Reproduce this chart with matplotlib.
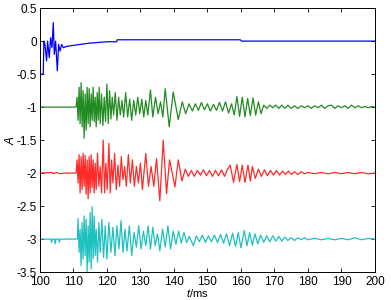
import matplotlib
matplotlib.use("Agg")
import matplotlib.pyplot as plt

plt.rcParams['font.family'] = ['Liberation Sans', 'DejaVu Sans']
plt.rcParams['mathtext.fontset'] = 'custom'
plt.rcParams['mathtext.it'] = 'Liberation Sans:italic'
plt.rcParams['mathtext.rm'] = 'Liberation Sans'

# trace offsets
offsets = [0, -1, -2, -3]

# blue trace (absolute values)
blue_t = [100, 101.0, 101.2, 101.5, 102.0, 102.3, 102.8, 103.2, 103.6, 104.0, 104.3,
          104.7, 105.2, 105.6, 106.0, 106.5, 107.0, 108.0, 112.0, 115.0, 120.0, 122.9,
          123.1, 159.8, 160.2, 200]
blue_v = [-0.5, -0.5, 0.0, -0.05, -0.3, 0.0, -0.25, 0.05, -0.1, 0.28, -0.2,
          0.0, -0.45, -0.05, -0.15, -0.05, -0.1, -0.08, -0.05, -0.03, -0.01, -0.01,
          0.02, 0.02, 0.0, 0.0]

# green trace (deviation from -1)
green_t = [100, 110.8, 111.1, 111.4, 111.7, 112.0, 112.3, 112.6, 112.9, 113.2, 113.5,
           113.8, 114.1, 114.4, 114.7, 115.0, 115.3, 115.6, 115.9, 116.2, 116.5, 116.8,
           117.1, 117.4, 117.7, 118.0, 118.4, 118.8, 119.2, 119.6, 120.0, 120.4, 120.8,
           121.2, 121.6, 122.0, 122.5, 123.0, 123.5, 124.0, 124.5, 125.0, 125.6, 126.2,
           126.8, 127.4, 128.0, 128.6, 129.2, 129.8, 130.4, 131.0, 131.6, 132.2, 133.0,
           133.7, 134.5, 135.3, 136.0, 136.7, 137.4, 138.6, 139.8, 141.3, 142.5, 143.5,
           144.5, 145.5, 146.4, 147.3, 148.2, 149.1, 150.0, 150.9, 151.8, 152.7, 153.6,
           154.5, 155.4, 156.3, 157.2, 158.0, 158.8, 159.6, 160.4, 161.2, 162.0, 162.8,
           163.6, 164.4, 165.2, 166.0, 166.8, 167.7, 168.6, 169.5, 170.4, 171.3, 172.2,
           173.1, 174.0, 175.0, 176.0, 177.0, 178.0, 179.0, 180.0, 181.0, 182.0, 183.0,
           184.0, 185.0, 186.0, 187.0, 188.0, 189.0, 190.0, 191.0, 192.0, 193.0, 194.0,
           195.0, 196.0, 197.0, 198.0, 199.0, 200]
green_d = [0, 0, 0.15, -0.2, 0.3, -0.25, 0.37, -0.3, 0.25, -0.47, 0.2,
           -0.35, 0.3, -0.25, 0.28, -0.3, 0.2, -0.2, 0.3, -0.22, 0.15, -0.3,
           0.22, -0.2, 0.3, -0.25, 0.2, -0.28, 0.15, -0.22, 0.35, -0.25, 0.25,
           -0.18, 0.15, -0.12, 0.22, -0.2, 0.15, -0.12, 0.1, -0.15, 0.22, -0.15,
           0.12, -0.2, 0.1, -0.12, 0.15, -0.1, 0.12, -0.15, 0.1, -0.12, 0.26,
           -0.15, 0.15, -0.1, 0.08, -0.15, 0.28, -0.3, 0.23, -0.19, 0.08, -0.1,
           0.05, -0.06, 0.05, -0.05, 0.07, -0.04, 0.05, -0.06, 0.04, -0.05, 0.07,
           -0.06, 0.08, -0.09, 0.05, -0.12, 0.16, -0.14, 0.15, -0.15, 0.13, -0.13,
           0.14, -0.12, 0.08, -0.1, 0.03, -0.02, 0.03, -0.01, 0.03, -0.02, 0.03,
           -0.02, 0.03, -0.02, 0.02, -0.02, 0.02, -0.01, 0.02, -0.02, 0.02, -0.01,
           0.03, -0.02, 0.02, 0.03, -0.02, 0.02, -0.01, 0.02, -0.02, 0.03, -0.01,
           0.02, -0.01, 0.01, -0.01, 0.01, 0]

# red trace (deviation from -2)
red_t = [100, 103.5, 104.0, 105.0, 106.0, 107.0, 110.8, 111.1, 111.4, 111.7, 112.0,
         112.3, 112.6, 112.9, 113.2, 113.5, 113.8, 114.1, 114.4, 114.7, 115.0, 115.3,
         115.6, 115.9, 116.2, 116.5, 116.8, 117.2, 117.6, 118.0, 118.4, 118.9, 119.3,
         119.7, 120.1, 120.6, 121.0, 121.4, 121.8, 122.3, 122.8, 123.3, 123.8, 124.3,
         124.8, 125.3, 125.8, 126.4, 127.0, 127.6, 128.2, 128.8, 129.4, 130.0, 130.6,
         131.6, 132.4, 133.2, 134.0, 134.8, 135.8, 136.8, 137.8, 138.7, 139.5, 140.3,
         141.3, 142.4, 143.4, 144.3, 145.2, 146.1, 147.0, 147.9, 148.8, 149.7, 150.6,
         151.5, 152.4, 153.3, 154.2, 155.1, 156.0, 156.8, 157.8, 158.8, 159.6, 160.4,
         161.2, 162.1, 162.8, 163.4, 164.3, 165.2, 166.1, 167.0, 167.9, 168.8, 169.7,
         170.6, 171.5, 172.4, 173.3, 174.2, 175.1, 176.0, 177.0, 178.0, 179.0, 180.0,
         182.0, 184.0, 186.0, 188.0, 190.0, 192.0, 194.0, 196.0, 198.0, 200]
red_d = [0, 0.01, -0.01, 0.01, -0.01, 0, 0, 0.2, -0.15, 0.28, -0.3,
         0.25, -0.25, 0.3, -0.2, 0.27, -0.32, 0.2, -0.39, 0.25, -0.3, 0.28,
         -0.22, 0.2, -0.3, 0.15, -0.25, 0.3, -0.2, 0.1, -0.3, 0.5, -0.3,
         0.15, -0.25, 0.45, -0.3, 0.2, -0.15, 0.3, -0.25, 0.12, -0.2, 0.25,
         -0.1, 0.1, -0.2, 0.28, -0.15, 0.2, -0.2, 0.1, -0.15, 0.15, -0.25,
         0.3, -0.2, 0.1, -0.2, 0.22, -0.42, 0.5, -0.31, 0.2, 0.0, -0.21,
         0.2, -0.12, 0.06, -0.05, 0.04, -0.05, 0.04, -0.03, 0.05, -0.04, 0.04,
         -0.05, 0.04, -0.04, 0.05, -0.05, 0.06, 0.12, -0.14, 0.13, -0.13, 0.12,
         -0.14, 0.12, -0.12, 0.1, -0.08, 0.06, -0.05, 0.05, -0.04, 0.04, -0.03,
         0.04, -0.03, 0.03, -0.02, 0.03, -0.02, 0.02, -0.02, 0.02, -0.01, 0.01,
         -0.01, 0.01, -0.01, 0.01, -0.01, 0.01, -0.01, 0.01, -0.01, 0]

# cyan trace (deviation from -3)
cyan_t = [100, 103.3, 103.5, 103.7, 104.4, 104.6, 104.8, 105.6, 105.8, 106.0, 111.2,
          111.4, 111.7, 112.0, 112.3, 112.6, 112.9, 113.2, 113.5, 113.8, 114.1, 114.4,
          114.7, 115.0, 115.3, 115.6, 115.9, 116.2, 116.5, 116.8, 117.2, 117.6, 118.0,
          118.5, 119.0, 119.5, 120.0, 120.6, 121.2, 121.8, 122.4, 123.0, 123.6, 124.2,
          124.8, 125.4, 126.0, 126.7, 127.4, 128.1, 128.8, 129.5, 130.2, 130.9, 131.6,
          132.3, 133.0, 133.7, 134.4, 135.1, 135.8, 136.6, 137.4, 138.2, 139.0, 139.8,
          140.6, 141.4, 142.2, 143.0, 143.8, 144.6, 145.8, 146.7, 147.6, 148.5, 149.4,
          150.3, 151.2, 152.1, 153.0, 153.9, 154.8, 155.7, 156.6, 157.5, 158.4, 159.2,
          160.0, 161.0, 161.8, 162.6, 163.4, 164.2, 165.0, 165.9, 166.8, 167.7, 168.6,
          169.5, 170.4, 171.3, 172.2, 173.1, 174.0, 175.0, 176.0, 177.0, 178.0, 179.0,
          180.0, 182.0, 184.0, 186.0, 188.0, 190.0, 192.0, 194.0, 196.0, 198.0, 200]
cyan_d = [0, 0, -0.05, 0, 0, -0.07, 0, 0, -0.05, 0, 0,
          0.31, -0.2, 0.15, -0.4, 0.25, -0.3, 0.35, -0.25, 0.3, -0.5, 0.2,
          -0.35, 0.4, -0.45, 0.49, -0.3, 0.35, -0.25, 0.15, -0.35, 0.25, -0.2,
          0.3, -0.28, 0.2, -0.3, 0.25, -0.2, 0.18, -0.25, 0.2, -0.15, 0.28,
          -0.2, 0.15, -0.18, 0.2, -0.25, 0.1, -0.12, 0.2, -0.15, 0.12, -0.1,
          0.2, -0.15, 0.18, -0.1, 0.08, -0.18, 0.15, -0.12, 0.2, -0.15, 0.12,
          -0.08, 0.12, -0.06, 0.1, -0.05, 0.04, -0.1, 0.05, -0.04, 0.06, -0.05,
          0.05, -0.04, 0.06, -0.05, 0.07, -0.06, 0.08, -0.1, 0.09, -0.11, 0.1,
          -0.13, 0.13, -0.1, 0.1, -0.09, 0.08, -0.07, 0.06, -0.05, 0.05, -0.04,
          0.05, -0.03, 0.04, -0.03, 0.03, -0.02, 0.02, -0.02, 0.02, -0.01, 0.02,
          -0.01, 0.01, -0.01, 0.01, -0.01, 0.01, -0.01, 0.02, -0.01, 0.01, 0]

xticks = [100, 110, 120, 130, 140, 150, 160, 170, 180, 190, 200]
yticks = [-3.5, -3, -2.5, -2, -1.5, -1, -0.5, 0, 0.5]
ytick_labels = ['-3.5', '-3', '-2.5', '-2', '-1.5', '-1', '-0.5', '0', '0.5']

fig = plt.figure(figsize=(3.91, 3.0), dpi=100)
ax = fig.add_axes([0.102, 0.093, 0.857, 0.88])

ax.plot(blue_t, blue_v, color='#0000ff', lw=0.9)
ax.plot(green_t, [d + offsets[1] for d in green_d], color='#228b22', lw=0.9)
ax.plot(red_t, [d + offsets[2] for d in red_d], color='#ff2a2a', lw=0.9)
ax.plot(cyan_t, [d + offsets[3] for d in cyan_d], color='#1fc0c0', lw=0.9)

ax.set_xlim(100, 200)
ax.set_ylim(-3.5, 0.5)
ax.set_xticks(xticks)
ax.set_yticks(yticks)
ax.set_yticklabels(ytick_labels)
ax.tick_params(direction='in', top=True, right=True, length=3, width=0.6,
               labelsize=8.5)
ax.tick_params(axis='x', pad=3)
ax.tick_params(axis='y', pad=2)
for s in ax.spines.values():
    s.set_linewidth(0.7)

ax.set_xlabel(r'$t$/ms', fontsize=8, labelpad=0)
ax.xaxis.set_label_coords(0.47, -0.057)
ax.set_ylabel(r'$A$', fontsize=8.5, labelpad=0)

fig.savefig('out.png', dpi=100)
